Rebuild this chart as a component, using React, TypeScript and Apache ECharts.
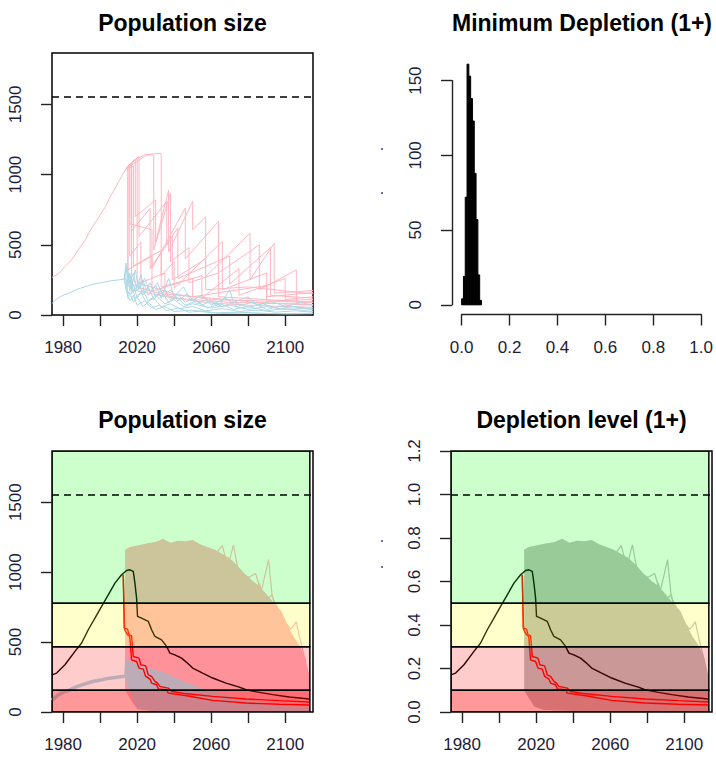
import React, { useEffect, useRef } from "react";
import * as echarts from "echarts";

// ---------- data ----------
const K = 1555;
const xTickYears = [1980, 2000, 2020, 2040, 2060, 2080, 2100];
const xLabelYears = [1980, 2020, 2060, 2100];
const popTicks = [0, 500, 1000, 1500];
const deplTicks = [0, 0.2, 0.4, 0.6, 0.8, 1.0, 1.2];
const histTicksY = [0, 50, 100, 150];
const histTicksX = [0, 0.2, 0.4, 0.6, 0.8, 1.0];

const histBreaks = [0, 0.0075, 0.015, 0.0225, 0.03, 0.0375, 0.045, 0.0525, 0.06, 0.0675, 0.075, 0.0825];
const histCounts = [4, 19, 72, 161, 153, 138, 123, 88, 57, 20, 3];

const zoneFractions = [0, 0.1, 0.3, 0.5];

const pinkHistory = [[1974, 268], [1978, 298], [1981, 345], [1985, 400], [1988, 460], [1992, 536], [1995, 610], [1999, 690], [2003, 774], [2006, 857], [2009, 925], [2011.6, 988], [2014, 1040]];
const pinkSims = [
  [[2014, 1040], [2015, 1060], [2015, 240], [2020, 200], [2030, 160], [2045, 110], [2060, 85], [2080, 70], [2100, 60], [2115, 55]],
  [[2014, 1040], [2016, 1070], [2016, 420], [2022, 520], [2022, 230], [2035, 300], [2035, 150], [2060, 120], [2085, 90], [2115, 70]],
  [[2014, 1040], [2017, 1080], [2017, 600], [2027, 760], [2027, 330], [2039, 560], [2039, 250], [2057, 400], [2057, 180], [2080, 200], [2115, 150]],
  [[2014, 1040], [2018, 1100], [2024, 1140], [2030, 1150], [2033, 1150], [2033, 280], [2040, 380], [2040, 190], [2066, 524], [2066, 179], [2090, 300], [2090, 130], [2115, 160]],
  [[2014, 1040], [2019, 1110], [2019, 700], [2030, 820], [2030, 520], [2037, 890], [2037, 450], [2050, 810], [2050, 607], [2057, 698], [2057, 274], [2081, 583], [2081, 250], [2094, 512], [2094, 155], [2115, 175]],
  [[2014, 1040], [2016, 1075], [2016, 650], [2028, 607], [2028, 330], [2046, 762], [2046, 400], [2064, 667], [2064, 300], [2086, 500], [2086, 179], [2106, 321], [2106, 83], [2115, 100]],
  [[2014, 1040], [2020, 1120], [2020, 230], [2040, 150], [2060, 110], [2115, 90]],
  [[2014, 1040], [2015, 1050], [2015, 320], [2028, 420], [2028, 170], [2055, 280], [2055, 120], [2075, 330], [2075, 140], [2100, 260], [2100, 110], [2115, 130]],
  [[2014, 1040], [2017, 1090], [2017, 180], [2040, 120], [2070, 90], [2115, 75]],
  [[2014, 1040], [2021, 1130], [2021, 560], [2036, 809], [2036, 500], [2042, 620], [2042, 260], [2070, 420], [2070, 220], [2092, 480], [2092, 140], [2115, 120]],
  [[2014, 1040], [2018, 1060], [2018, 350], [2033, 460], [2033, 200], [2050, 260], [2050, 130], [2090, 210], [2090, 100], [2115, 110]],
  [[2014, 1040], [2025, 1140], [2029, 1140], [2029, 464], [2038, 869], [2038, 380], [2048, 480], [2048, 230], [2064, 300], [2064, 130], [2115, 90]],
];

const blueHistory = [[1974, 83], [1977, 119], [1980, 140], [1983, 155], [1987, 180], [1992, 202], [1996, 218], [2001, 231], [2005, 242], [2010, 250], [2013, 255]];
const blueSims = [
  [[2013, 255], [2014, 370], [2015, 200], [2016, 280], [2017, 150], [2018, 220], [2020, 120], [2023, 180], [2026, 100], [2030, 140], [2035, 80], [2040, 110], [2045, 60], [2050, 80], [2060, 50], [2070, 70], [2080, 40], [2090, 60], [2100, 40], [2115, 50]],
  [[2013, 255], [2014, 300], [2015, 330], [2016, 180], [2018, 260], [2020, 200], [2022, 290], [2024, 150], [2027, 230], [2030, 130], [2034, 200], [2038, 110], [2042, 150], [2046, 90], [2050, 120], [2055, 70], [2060, 100], [2066, 60], [2072, 90], [2080, 55], [2088, 80], [2096, 45], [2105, 60], [2115, 35]],
  [[2013, 255], [2014, 220], [2015, 120], [2016, 160], [2018, 90], [2020, 130], [2023, 60], [2026, 90], [2030, 40], [2035, 60], [2040, 25], [2050, 35], [2060, 15], [2075, 20], [2090, 10], [2115, 12]],
  [[2013, 255], [2015, 280], [2017, 200], [2019, 320], [2021, 180], [2024, 260], [2027, 160], [2031, 230], [2034, 130], [2038, 180], [2042, 100], [2047, 150], [2052, 80], [2058, 110], [2064, 60], [2070, 180], [2072, 90], [2080, 130], [2085, 70], [2092, 100], [2100, 60], [2108, 90], [2115, 70]],
  [[2013, 255], [2014, 180], [2016, 100], [2018, 140], [2020, 70], [2024, 100], [2028, 50], [2032, 70], [2036, 30], [2042, 50], [2048, 20], [2056, 30], [2064, 10], [2080, 15], [2100, 8], [2115, 10]],
  [[2013, 255], [2015, 240], [2016, 300], [2018, 160], [2021, 240], [2023, 140], [2026, 200], [2029, 110], [2033, 170], [2037, 90], [2041, 130], [2046, 70], [2052, 100], [2058, 50], [2065, 80], [2072, 40], [2080, 60], [2090, 30], [2100, 45], [2115, 25]],
  [[2013, 255], [2014, 260], [2015, 150], [2017, 210], [2019, 120], [2022, 160], [2025, 90], [2029, 120], [2033, 60], [2038, 80], [2043, 45], [2050, 60], [2057, 30], [2066, 45], [2075, 25], [2085, 35], [2095, 20], [2105, 30], [2115, 20]],
  [[2013, 255], [2014, 340], [2016, 230], [2018, 300], [2020, 170], [2023, 250], [2026, 140], [2030, 210], [2033, 120], [2037, 260], [2040, 130], [2045, 200], [2049, 100], [2055, 140], [2060, 70], [2068, 120], [2074, 60], [2082, 90], [2090, 40], [2100, 70], [2115, 40]],
];

const popUpper = [[2013.5, 1160], [2016, 1180], [2020, 1190], [2025, 1205], [2030, 1215], [2034, 1238], [2038, 1210], [2042, 1225], [2046, 1220], [2050, 1230], [2054, 1200], [2058, 1180], [2062, 1160], [2066, 1130], [2070, 1100], [2074, 1050], [2078, 990], [2082, 940], [2086, 900], [2090, 840], [2094, 780], [2098, 720], [2101, 630], [2104, 550], [2108, 470], [2111, 380], [2113.2, 250]];
const popLower = [[2013.5, 155], [2016, 100], [2019, 40], [2024, 15], [2040, 8], [2113.2, 5]];
const popTraces = [
  [[2058, 1150], [2062, 1120], [2066, 1190], [2069, 1040], [2072, 1195], [2075, 980], [2079, 940]],
  [[2076, 1000], [2080, 960], [2084, 990], [2087, 860], [2091, 1090], [2093, 820], [2096, 740]],
  [[2092, 760], [2096, 680], [2100, 640], [2103, 590], [2106, 645], [2108, 520], [2111, 360]],
  [[2080, 970], [2083, 850], [2086, 920], [2089, 790], [2093, 840], [2097, 600]],
];
const blueUpper = [[2013, 255], [2013.6, 390], [2016, 360], [2020, 345], [2025, 320], [2030, 300], [2035, 280], [2040, 250], [2045, 220], [2050, 195], [2055, 170], [2060, 150], [2070, 115], [2080, 85], [2090, 60], [2100, 45], [2113.2, 35]];
const blueLower = [[2013, 250], [2020, 20], [2030, 5], [2113.2, 2]];

const popMedian = [[1974, 266], [1976.5, 278], [1981, 338], [1986.4, 433], [1990, 493], [1993.6, 588], [1997.2, 671], [2000.8, 755], [2004.4, 838], [2008, 921], [2011.6, 981], [2014.3, 1012], [2016.1, 1017], [2017.9, 1005], [2018.8, 921], [2019.7, 814], [2020.2, 683], [2022.4, 671], [2026, 648], [2027.8, 588], [2029.6, 540], [2033.2, 516], [2035.9, 469], [2037.7, 421], [2040.4, 409], [2044, 385], [2046.7, 355], [2050, 314], [2055.4, 278], [2060.8, 243], [2068, 207], [2075.2, 178], [2078.8, 159], [2086, 140], [2093.2, 124], [2102.2, 107], [2113, 93]];
const popRedA = [[2012.5, 981], [2013, 600], [2014.8, 593], [2015.6, 552], [2017, 545], [2017.9, 397], [2021, 385], [2022, 338], [2024.6, 330], [2026, 266], [2027.8, 254], [2029.6, 219], [2031, 207], [2032.3, 183], [2036.8, 171], [2038.6, 147], [2046.7, 130], [2060.8, 112], [2078.8, 93], [2096.8, 81], [2113, 71]];
const popRedB = [[2012.5, 981], [2013.2, 590], [2014.8, 552], [2016, 540], [2017, 373], [2019.7, 361], [2021, 314], [2023.3, 307], [2024.6, 254], [2027, 235], [2027.8, 207], [2030.5, 195], [2031.5, 164], [2036, 159], [2036.8, 135], [2046.7, 116], [2060.8, 83], [2078.8, 64], [2096.8, 55], [2113, 50]];

// ---------- layout / style ----------
const YEAR_MIN = 1974;
const YEAR_MAX = 2115;
const ZONE_X1 = 2113.3;
const ZONE_TOP = 1.2;
const POP_MAX = ZONE_TOP * K;
const HX_MIN = -0.04, HX_MAX = 1.04, HY_MIN = -6.48, HY_MAX = 168.48;
const FONT = "'Liberation Sans', Arial, Helvetica, sans-serif";
const LABEL_COLOR = "#1c1c38";
const PINK = "#FFB6C1";
const BLUE = "#ADD8E6";
const GREY = "#BEBEBE";
const zoneColors = ["rgba(255,0,0,0.4)", "rgba(255,0,0,0.2)", "rgba(255,255,0,0.2)", "rgba(0,255,0,0.2)"];

const P1 = { left: 52, top: 53, width: 261, height: 262 };
const P2 = { left: 452, top: 53, width: 260, height: 261.5 };
const P3 = { left: 52, top: 451, width: 261, height: 261 };
const P4 = { left: 451, top: 451, width: 261, height: 261 };

const toDepl = (pts: number[][]) => pts.map(([x, y]) => [x, y / K]);

export default function App() {
  const ref = useRef<HTMLDivElement>(null);
  useEffect(() => {
    document.body.style.margin = "0";
    const chart = echarts.init(ref.current!, null, { renderer: "svg" });

    const labelStyle = { fontFamily: FONT, fontSize: 17, color: LABEL_COLOR };
    const tickStyle = { color: "#222", width: 1.4 };

    const yearAxis = (gi: number) => ({
      type: "value", gridIndex: gi, min: YEAR_MIN, max: YEAR_MAX,
      axisLine: { show: false },
      axisTick: { show: true, inside: false, length: 11, lineStyle: tickStyle, customValues: xTickYears },
      axisLabel: { ...labelStyle, margin: 24, customValues: xLabelYears, formatter: (v: number) => String(v) },
      splitLine: { show: false },
    });
    const leftAxis = (gi: number, min: number, max: number, ticks: number[], fmt: (v: number) => string, line: boolean) => ({
      type: "value", gridIndex: gi, min, max,
      axisLine: { show: line, lineStyle: { color: "#222", width: 1.4 } },
      axisTick: { show: true, inside: false, length: 11, lineStyle: tickStyle, customValues: ticks },
      axisLabel: { ...labelStyle, margin: 28, rotate: 90, customValues: ticks, formatter: fmt },
      splitLine: { show: false },
    });
    const hidden = (gi: number, min?: number, max?: number) => ({ type: "value", gridIndex: gi, min, max, show: false, splitLine: { show: false } });

    const hyTop = P2.top + P2.height * (HY_MAX - 150) / (HY_MAX - HY_MIN);
    const hyBottom = P2.top + P2.height * (HY_MAX - 0) / (HY_MAX - HY_MIN);
    const hxLeft = P2.left + P2.width * (0 - HX_MIN) / (HX_MAX - HX_MIN);
    const hxRight = P2.left + P2.width * (1 - HX_MIN) / (HX_MAX - HX_MIN);

    const boxed = { show: true, borderColor: "#000", borderWidth: 1.5, backgroundColor: "transparent" };
    const grid = [
      { ...P1, ...boxed },
      { ...P2, show: false },
      { left: P2.left, top: hyTop, width: 1, height: hyBottom - hyTop, show: false },
      { left: hxLeft, top: P2.top + P2.height - 1, width: hxRight - hxLeft, height: 1, show: false },
      { ...P3, ...boxed },
      { ...P4, ...boxed },
    ];

    const xAxis = [
      yearAxis(0),
      hidden(1, HX_MIN, HX_MAX),
      hidden(2, 0, 1),
      {
        type: "value", gridIndex: 3, min: 0, max: 1, position: "bottom",
        axisLine: { show: true, lineStyle: { color: "#222", width: 1.4 } },
        axisTick: { show: true, inside: false, length: 11, lineStyle: tickStyle, customValues: histTicksX },
        axisLabel: { ...labelStyle, margin: 24, customValues: histTicksX, formatter: (v: number) => v.toFixed(1) },
        splitLine: { show: false },
      },
      yearAxis(4),
      yearAxis(5),
    ];
    const yAxis = [
      leftAxis(0, 0, POP_MAX, popTicks, (v) => String(v), false),
      hidden(1, HY_MIN, HY_MAX),
      leftAxis(2, 0, 150, histTicksY, (v) => String(v), true),
      hidden(3, 0, 1),
      leftAxis(4, 0, POP_MAX, popTicks, (v) => String(v), false),
      leftAxis(5, 0, ZONE_TOP, deplTicks, (v) => v.toFixed(1), false),
    ];

    const line = (gi: number, data: number[][], color: string, width: number, z: number, extra: any = {}) => ({
      type: "line", xAxisIndex: gi, yAxisIndex: gi, data, symbol: "none", showSymbol: false,
      lineStyle: { color, width }, z, silent: true, clip: true, ...extra,
    });
    const band = (gi: number, upper: number[][], lower: number[][], color: string, z: number) => ({
      type: "custom", xAxisIndex: gi, yAxisIndex: gi, z, silent: true, clip: true,
      data: [[upper[0][0], upper[0][1]]],
      renderItem: (_p: any, api: any) => {
        const pts = upper.map((p) => api.coord(p)).concat(lower.slice().reverse().map((p) => api.coord(p)));
        return { type: "polygon", shape: { points: pts }, style: { fill: color, stroke: null } };
      },
    });
    const zones = (gi: number, scale: number, z: number) => ({
      type: "custom", xAxisIndex: gi, yAxisIndex: gi, z, silent: true, clip: true,
      data: zoneFractions.map((f, i) => [f, i + 1 < zoneFractions.length ? zoneFractions[i + 1] : ZONE_TOP, i]),
      encode: { y: [0, 1] },
      renderItem: (_p: any, api: any) => {
        const a = api.coord([YEAR_MIN, api.value(1) * scale]);
        const b = api.coord([ZONE_X1, api.value(0) * scale]);
        return {
          type: "rect",
          shape: { x: a[0], y: a[1], width: b[0] - a[0], height: b[1] - a[1] },
          style: { fill: zoneColors[api.value(2)], stroke: "#000", lineWidth: 1.5 },
        };
      },
    });
    const dashed = (y: number) => ({
      silent: true, symbol: ["none", "none"], z: 10, label: { show: false },
      lineStyle: { color: "#000", type: [7, 5], width: 1.5 },
      data: [{ yAxis: y }],
    });

    const series: any[] = [];
    // Panel 1
    series.push(line(0, pinkHistory, PINK, 1, 2, { markLine: dashed(K) }));
    pinkSims.forEach((s) => series.push(line(0, s, PINK, 1, 2)));
    series.push(line(0, blueHistory, BLUE, 1, 2));
    blueSims.forEach((s) => series.push(line(0, s, BLUE, 1, 2)));

    // Panel 2 histogram
    series.push({
      type: "custom", xAxisIndex: 1, yAxisIndex: 1, silent: true,
      data: histCounts.map((c, i) => [histBreaks[i], histBreaks[i + 1], c]),
      encode: { x: [0, 1], y: 2 },
      renderItem: (_p: any, api: any) => {
        const a = api.coord([api.value(0), api.value(2)]);
        const b = api.coord([api.value(1), 0]);
        return {
          type: "rect",
          shape: { x: a[0], y: a[1], width: b[0] - a[0], height: b[1] - a[1] },
          style: { fill: "#000", stroke: "#000", lineWidth: 1 },
        };
      },
    });

    // Panel 3
    series.push(band(4, popUpper, popLower, PINK, 1));
    popTraces.forEach((s) => series.push(line(4, s, PINK, 1.2, 1)));
    series.push(line(4, blueHistory, BLUE, 3.5, 1));
    series.push(band(4, blueUpper, blueLower, BLUE, 1));
    series.push(line(4, popMedian, "#000", 1.4, 2, { markLine: dashed(K) }));
    series.push(line(4, popRedA, "#FF0000", 1.4, 2));
    series.push(line(4, popRedB, "#FF0000", 1.4, 2));
    series.push(zones(4, K, 3));

    // Panel 4
    series.push(band(5, toDepl(popUpper), toDepl(popLower), GREY, 1));
    popTraces.forEach((s) => series.push(line(5, toDepl(s), GREY, 1.2, 1)));
    series.push(line(5, toDepl(popMedian), "#000", 1.4, 2, { markLine: dashed(1) }));
    series.push(line(5, toDepl(popRedA), "#FF0000", 1.4, 2));
    series.push(line(5, toDepl(popRedB), "#FF0000", 1.4, 2));
    series.push(zones(5, 1, 3));

    const title = (text: string, x: number, y: number) => ({
      type: "text", x, y, silent: true,
      style: { text, fill: "#000", font: `bold 23px ${FONT}`, textAlign: "center", textVerticalAlign: "middle" },
    });
    const dot = (x: number, y: number) => ({ type: "circle", shape: { cx: x, cy: y, r: 0.9 }, style: { fill: "#2a2a80" }, silent: true });

    chart.setOption({
      animation: false,
      backgroundColor: "#fff",
      grid, xAxis, yAxis, series,
      graphic: [
        title("Population size", P1.left + P1.width / 2, 23),
        title("Minimum Depletion (1+)", P2.left + P2.width / 2, 23),
        title("Population size", P3.left + P3.width / 2, 420),
        title("Depletion level (1+)", P4.left + P4.width / 2, 420),
        dot(382, 149), dot(382, 193), dot(382, 541), dot(382, 567),
      ],
    });
    return () => chart.dispose();
  }, []);
  return <div ref={ref} style={{ width: 716, height: 758 }} />;
}
